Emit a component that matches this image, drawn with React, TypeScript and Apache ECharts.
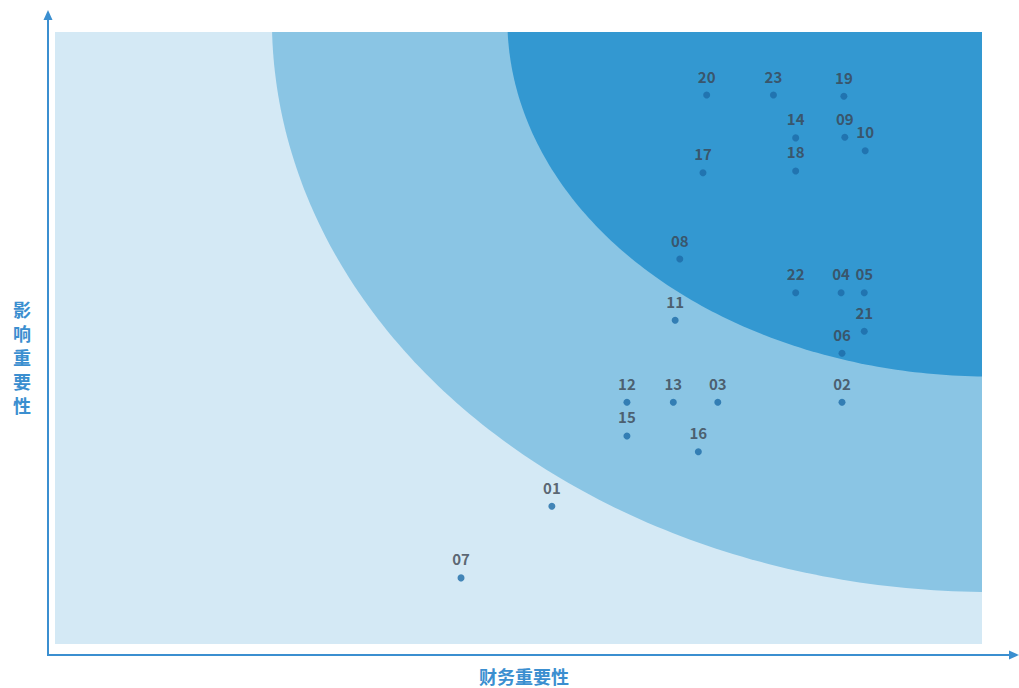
import React, { useEffect, useRef } from "react";
import * as echarts from "echarts";

// Topic ids and their (financial importance, impact importance) values
const topics = ["20", "23", "19", "14", "09", "10", "17", "18", "08", "11", "22", "04", "05", "21", "06", "02", "12", "13", "03", "15", "16", "01", "07"];
const financial = [7.03, 7.75, 8.51, 7.99, 8.52, 8.74, 6.99, 7.99, 6.74, 6.69, 7.99, 8.48, 8.73, 8.73, 8.49, 8.49, 6.17, 6.67, 7.15, 6.17, 6.94, 5.36, 4.38];
const impact = [8.97, 8.97, 8.95, 8.27, 8.28, 8.06, 7.7, 7.73, 6.29, 5.29, 5.74, 5.74, 5.74, 5.11, 4.75, 3.95, 3.95, 3.95, 3.95, 3.4, 3.14, 2.25, 1.08];

// Importance zones: ellipse quadrants around a centre just beyond the top-right corner
const zoneNames = ["medium", "high"];
const zoneCenterX = [10.09, 10.09];
const zoneCenterY = [10.2, 10.2];
const zoneRadiusX = [7.75, 5.21];
const zoneRadiusY = [9.35, 5.83];
const zoneColors = ["#8ac5e4", "#3398d1"];

const xAxisTitle = "财务重要性";
const yAxisTitle = "影响重要性";

export default function App() {
  const ref = useRef<HTMLDivElement>(null);

  useEffect(() => {
    if (!ref.current) return;
    const chart = echarts.init(ref.current, null, { renderer: "svg" });

    const zoneSeries = zoneNames.map((name, zi) => ({
      type: "custom",
      name,
      clip: true,
      silent: true,
      z: 1 + zi,
      data: [[0, 0]],
      renderItem: (params: any, api: any) => {
        const pts: number[][] = [api.coord([zoneCenterX[zi], zoneCenterY[zi]])];
        const n = 120;
        for (let i = 0; i <= n; i++) {
          const t = (Math.PI / 2) * (i / n);
          pts.push(
            api.coord([
              zoneCenterX[zi] - zoneRadiusX[zi] * Math.cos(t),
              zoneCenterY[zi] - zoneRadiusY[zi] * Math.sin(t),
            ])
          );
        }
        return {
          type: "polygon",
          shape: { points: pts },
          style: { fill: zoneColors[zi] },
        };
      },
    }));

    const axisColor = "#3b8fd0";

    chart.setOption({
      animation: false,
      grid: {
        left: 55,
        right: 37,
        top: 32,
        bottom: 44,
        show: true,
        backgroundColor: "#d4e9f5",
        borderWidth: 0,
      },
      xAxis: {
        type: "value",
        min: 0,
        max: 10,
        axisLine: { show: false },
        axisTick: { show: false },
        axisLabel: { show: false },
        splitLine: { show: false },
      },
      yAxis: {
        type: "value",
        min: 0,
        max: 10,
        axisLine: { show: false },
        axisTick: { show: false },
        axisLabel: { show: false },
        splitLine: { show: false },
      },
      graphic: [
        {
          type: "line",
          shape: { x1: 48, y1: 655, x2: 48, y2: 16 },
          style: { stroke: axisColor, lineWidth: 2 },
        },
        {
          type: "polygon",
          shape: { points: [[48, 10], [43.5, 20], [52.5, 20]] },
          style: { fill: axisColor },
        },
        {
          type: "line",
          shape: { x1: 47, y1: 655, x2: 1012, y2: 655 },
          style: { stroke: axisColor, lineWidth: 2 },
        },
        {
          type: "polygon",
          shape: { points: [[1019, 655], [1009, 650.5], [1009, 659.5]] },
          style: { fill: axisColor },
        },
        {
          type: "text",
          x: 22,
          y: 357,
          style: {
            text: yAxisTitle.split("").join("\n"),
            fill: axisColor,
            font: "bold 18px 'Noto Sans CJK SC'",
            lineHeight: 24,
            align: "center",
            verticalAlign: "middle",
          },
        },
        {
          type: "text",
          x: 524,
          y: 676,
          style: {
            text: xAxisTitle,
            fill: axisColor,
            font: "bold 18px 'Noto Sans CJK SC'",
            align: "center",
            verticalAlign: "middle",
          },
        },
      ],
      series: [
        ...zoneSeries,
        {
          type: "scatter",
          z: 5,
          symbol: "circle",
          symbolSize: 7,
          itemStyle: { color: "#1d6ca8" },
          label: {
            show: true,
            position: "top",
            distance: 8,
            formatter: (p: any) => p.name,
            color: "#3b4450",
            fontSize: 15,
            fontWeight: "bold",
            fontFamily: "'Noto Sans CJK SC', 'Noto Sans', sans-serif",
          },
          data: topics.map((t, i) => ({ name: t, value: [financial[i], impact[i]] })),
        },
      ],
    });

    return () => chart.dispose();
  }, []);

  return (
    <div
      ref={ref}
      style={{ position: "fixed", left: 0, top: 0, width: 1019, height: 688, background: "#ffffff" }}
    />
  );
}
